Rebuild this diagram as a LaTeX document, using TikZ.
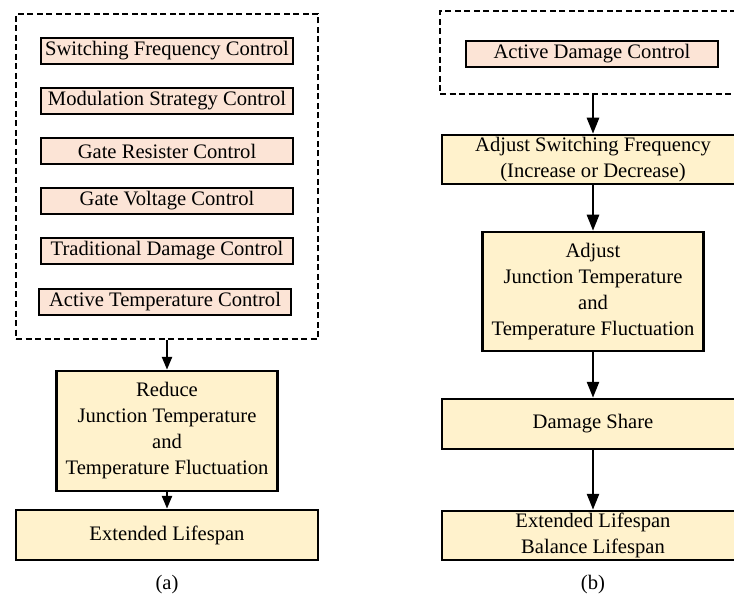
\documentclass[tikz,border=0pt]{standalone}
\usepackage{fontspec}
\setmainfont{Liberation Serif}
\usetikzlibrary{arrows.meta}
\definecolor{salmonfill}{RGB}{252,228,214}
\definecolor{creamfill}{RGB}{255,242,204}
\tikzset{
  base/.style={draw=black, line width=2.5pt, inner sep=0pt, align=center,
    font=\fontsize{20.6}{26}\selectfont},
  smallbox/.style={base, fill=salmonfill, minimum width=252pt, minimum height=26pt},
  bigbox/.style={base, fill=creamfill},
  dashbox/.style={draw=black, line width=2.3pt, dash pattern=on 6pt off 3.5pt, inner sep=0pt},
  arrA/.style={line width=2.5pt, -{Triangle[length=13pt,width=10pt]}},
  arrB/.style={line width=2.6pt, -{Triangle[length=16pt,width=12pt]}},
  caption/.style={font=\fontsize{20.6}{26}\selectfont, inner sep=0pt}
}
\begin{document}
\begin{tikzpicture}[x=1pt,y=-1pt]
\useasboundingbox (0,0) rectangle (734,596);
\clip (0,0) rectangle (734,596);
\fill[white] (0,0) rectangle (734,596);
% ---------- panel (a) ----------
\node[dashbox, minimum width=302pt, minimum height=325pt] (da) at (167,176.5) {};
\node[smallbox] (s1) at (167,51) {Switching Frequency Control};
\node[smallbox] (s2) at (167,101) {Modulation Strategy Control};
\node[smallbox] (s3) at (167,151) {Gate Resister Control};
\node[smallbox] (s4) at (167,201) {Gate Voltage Control};
\node[smallbox] (s5) at (167,251) {Traditional Damage Control};
\node[smallbox] (s6) at (165,302) {Active Temperature Control};
\node[bigbox, minimum width=221pt, minimum height=120pt] (red) at (167,431)
  {Reduce\\Junction Temperature\\and\\Temperature Fluctuation};
\node[bigbox, minimum width=302pt, minimum height=50pt] (ext) at (167,535) {Extended Lifespan};
\node[caption] (ca) at (167,585) {(a)};
\draw[arrA] (da.south) -- (red.north);
\draw[arrA] (red.south) -- (ext.north);
% ---------- panel (b) ----------
\node[dashbox, minimum width=306pt, minimum height=83pt] (db) at (593,52.5) {};
\node[smallbox] (adc) at (592,54) {Active Damage Control};
\node[bigbox, minimum width=302pt, minimum height=49pt] (asf) at (593,159.5)
  {Adjust Switching Frequency\\(Increase or Decrease)};
\node[bigbox, minimum width=221pt, minimum height=119pt] (ajt) at (593,291.5)
  {Adjust\\Junction Temperature\\and\\Temperature Fluctuation};
\node[bigbox, minimum width=302pt, minimum height=50pt] (ds) at (593,424) {Damage Share};
\node[bigbox, minimum width=302pt, minimum height=49pt] (el) at (593,535.5)
  {Extended Lifespan\\Balance Lifespan};
\node[caption] (cb) at (593,585) {(b)};
\draw[arrB] (db.south) -- (asf.north);
\draw[arrB] (asf.south) -- (ajt.north);
\draw[arrB] (ajt.south) -- (ds.north);
\draw[arrB] (ds.south) -- (el.north);
\end{tikzpicture}
\end{document}
